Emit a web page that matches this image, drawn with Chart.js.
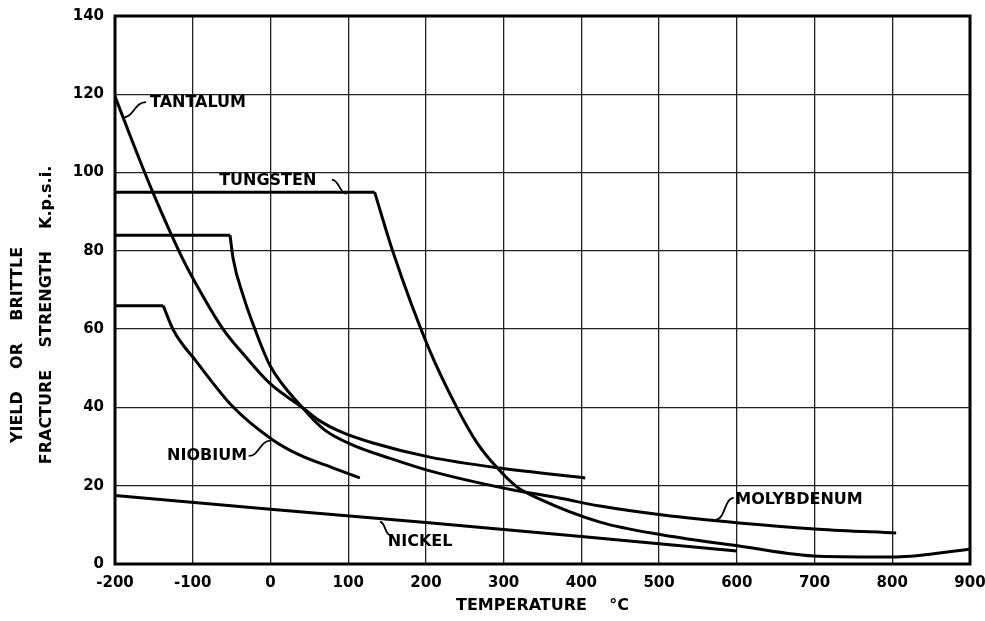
<!DOCTYPE html>
<html>
<head>
<meta charset="utf-8">
<script src="https://cdn.jsdelivr.net/npm/chart.js@4.4.1/dist/chart.umd.min.js"></script>
<style>
  body { margin: 0; background: #fff; }
  canvas { display: block; }
</style>
</head>
<body>
<canvas id="strengthChart" width="985" height="621"></canvas>
<script>
// Temperature (°C) and strength (k.p.s.i.) for each metal
const tantalumTemp = [-200, -177, -151, -114, -97, -61, -30, 0, 41, 64, 90, 132, 205, 295, 405];
const tantalumKsi  = [119.5, 107.6, 94.8, 78.4, 72, 60, 52.5, 46, 40, 36.5, 33.8, 30.9, 27.3, 24.5, 22];

const tungstenFlatTemp = [-200, 134];
const tungstenFlatKsi  = [95, 95];
const tungstenTemp = [134, 158, 203, 240, 266, 292, 317, 343, 424, 505, 603, 705, 805, 900];
const tungstenKsi  = [95, 79.5, 55.4, 39.9, 30.9, 24.5, 19.7, 16.9, 10.7, 7.4, 4.6, 2, 1.8, 3.8];

const molybdenumFlatTemp = [-200, -52];
const molybdenumFlatKsi  = [84, 84];
const molybdenumTemp = [-52, -48, -35, -20, 0, 41, 70, 106, 154, 205, 305, 373, 424, 505, 603, 705, 805];
const molybdenumKsi  = [84, 78, 68.5, 60, 50.5, 40, 34.2, 30.4, 27, 23.8, 19.2, 16.8, 14.8, 12.5, 10.5, 8.9, 7.9];

const niobiumFlatTemp = [-200, -138];
const niobiumFlatKsi  = [66, 66];
const niobiumTemp = [-138, -125, -94, -48, 3, 38, 81, 115];
const niobiumKsi  = [66, 59.8, 51.4, 40.1, 31.7, 27.8, 24.5, 22];

const nickelTemp = [-200, 0, 200, 400, 600];
const nickelKsi  = [17.5, 14, 10.6, 7, 3.3];

const tempTicks = [-200, -100, 0, 100, 200, 300, 400, 500, 600, 700, 800, 900];
const ksiTicks = [0, 20, 40, 60, 80, 100, 120, 140];

// curve labels: text, where the text starts, and the leader from text to curve
const curveLabels = [
  { text: 'TANTALUM',   at: [-155, 117.8], leader: [[-160, 118], [-191, 114]] },
  { text: 'TUNGSTEN',   at: [-66, 98],     leader: [[79, 98.2], [98, 94.6]] },
  { text: 'NIOBIUM',    at: [-133, 27.6],  leader: [[-28, 27.6], [0, 31.5]] },
  { text: 'MOLYBDENUM', at: [598, 16.4],   leader: [[596, 16.9], [573, 11.3]] },
  { text: 'NICKEL',     at: [151, 5.6],    leader: [[154, 7.4], [141, 10.8]] }
];

const FONT = '"DejaVu Sans", sans-serif';

function pts(xs, ys) {
  return xs.map((x, i) => ({ x: x, y: ys[i] }));
}

function curve(xs, ys) {
  return {
    data: pts(xs, ys),
    borderColor: '#000',
    borderWidth: 3,
    pointRadius: 0,
    fill: false,
    cubicInterpolationMode: 'monotone'
  };
}

function flat(xs, ys) {
  return {
    data: pts(xs, ys),
    borderColor: '#000',
    borderWidth: 3,
    pointRadius: 0,
    fill: false,
    tension: 0
  };
}

// frame, curve labels and the two-line y title
const decorations = {
  id: 'decorations',
  afterDatasetsDraw(chart) {
    const { ctx, chartArea: a, scales: { x, y } } = chart;
    ctx.save();

    ctx.strokeStyle = '#000';
    ctx.lineWidth = 3;
    ctx.strokeRect(a.left, a.top, a.right - a.left, a.bottom - a.top);

    ctx.fillStyle = '#000';
    ctx.font = 'bold 16px ' + FONT;
    ctx.textBaseline = 'middle';
    ctx.textAlign = 'left';
    curveLabels.forEach(l => {
      ctx.fillText(l.text, x.getPixelForValue(l.at[0]), y.getPixelForValue(l.at[1]));
      const [p0, p1] = l.leader;
      const x0 = x.getPixelForValue(p0[0]), y0 = y.getPixelForValue(p0[1]);
      const x1 = x.getPixelForValue(p1[0]), y1 = y.getPixelForValue(p1[1]);
      ctx.lineWidth = 1.8;
      ctx.beginPath();
      ctx.moveTo(x0, y0);
      ctx.bezierCurveTo((x0 + x1) / 2, y0, (x0 + x1) / 2, y1, x1, y1);
      ctx.stroke();
    });

    ctx.font = 'bold 16px ' + FONT;
    ctx.textAlign = 'center';
    ctx.save();
    ctx.translate(18, 345);
    ctx.rotate(-Math.PI / 2);
    ctx.fillText('YIELD    OR    BRITTLE', 0, 0);
    ctx.restore();
    ctx.save();
    ctx.translate(47, 315);
    ctx.rotate(-Math.PI / 2);
    ctx.fillText('FRACTURE    STRENGTH    K.p.s.i.', 0, 0);
    ctx.restore();

    ctx.restore();
  }
};

new Chart(document.getElementById('strengthChart'), {
  type: 'line',
  data: {
    datasets: [
      curve(tantalumTemp, tantalumKsi),
      flat(tungstenFlatTemp, tungstenFlatKsi),
      curve(tungstenTemp, tungstenKsi),
      flat(molybdenumFlatTemp, molybdenumFlatKsi),
      curve(molybdenumTemp, molybdenumKsi),
      flat(niobiumFlatTemp, niobiumFlatKsi),
      curve(niobiumTemp, niobiumKsi),
      flat(nickelTemp, nickelKsi)
    ]
  },
  options: {
    responsive: false,
    animation: false,
    layout: { padding: { top: 16, right: 15, left: 0, bottom: 0 } },
    plugins: {
      legend: { display: false },
      tooltip: { enabled: false }
    },
    scales: {
      x: {
        type: 'linear',
        min: -200,
        max: 900,
        afterBuildTicks: s => { s.ticks = tempTicks.map(v => ({ value: v })); },
        afterFit: s => { s.height = 57; s.paddingLeft = 0; s.paddingRight = 0; },
        grid: { color: '#222', lineWidth: 1.3, drawTicks: false },
        border: { display: false },
        ticks: {
          color: '#000',
          padding: 10,
          maxRotation: 0,
          autoSkip: false,
          font: { family: FONT, weight: 'bold', size: 15 }
        },
        title: {
          display: true,
          text: 'TEMPERATURE    °C',
          color: '#000',
          padding: { top: 0, bottom: 6 },
          font: { family: FONT, weight: 'bold', size: 16 }
        }
      },
      y: {
        min: 0,
        max: 140,
        afterBuildTicks: s => { s.ticks = ksiTicks.map(v => ({ value: v })); },
        afterFit: s => { s.width = 115; s.paddingTop = 0; s.paddingBottom = 0; },
        grid: { color: '#222', lineWidth: 1.3, drawTicks: false },
        border: { display: false },
        ticks: {
          color: '#000',
          padding: 11,
          font: { family: FONT, weight: 'bold', size: 15 }
        }
      }
    }
  },
  plugins: [decorations]
});
</script>
</body>
</html>
